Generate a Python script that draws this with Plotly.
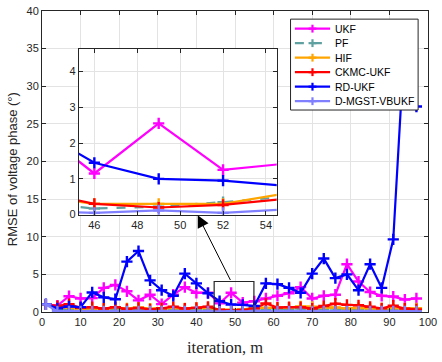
import plotly.graph_objects as go

iters = [1, 4, 7, 10, 13, 16, 19, 22, 25, 28, 31, 34, 37, 40, 43, 46, 49, 52, 55,
         58, 61, 64, 67, 70, 73, 76, 79, 82, 85, 88, 91, 94, 97]

ukf = [1.0, 0.85, 2.1, 1.8, 1.85, 3.2, 3.6, 2.75, 1.55, 2.3, 1.05, 2.3, 3.3, 2.55, 2.55,
       1.15, 2.55, 1.25, 1.43, 1.8, 2.15, 2.5, 3.3, 1.8, 2.15, 2.3, 6.35, 4.05, 2.65,
       2.15, 2.05, 1.65, 1.8]
pf = [1.0, 0.4, 0.35, 0.3, 0.35, 0.3, 0.35, 0.3, 0.3, 0.3, 0.35, 0.3, 0.3, 0.3, 0.35,
      0.17, 0.22, 0.35, 0.5, 0.4, 0.35, 0.4, 0.45, 0.4, 0.4, 0.45, 0.4, 0.35, 0.35,
      0.3, 0.35, 0.3, 0.3]
hif = [1.0, 0.6, 0.55, 0.45, 0.5, 0.45, 0.55, 0.5, 0.6, 0.45, 0.5, 0.55, 0.5, 0.55, 0.55,
       0.3, 0.3, 0.3, 0.6, 0.55, 0.55, 0.6, 0.75, 0.7, 0.6, 0.6, 0.5, 0.55, 0.5,
       0.5, 0.55, 0.5, 0.5]
ckmc = [1.0, 0.8, 1.05, 0.55, 0.65, 0.45, 0.65, 0.4, 0.55, 0.35, 0.5, 0.7, 0.45, 0.55, 0.7,
        0.3, 0.2, 0.27, 0.45, 1.15, 0.6, 0.65, 0.65, 0.45, 0.8, 1.1, 0.95, 0.9, 0.7,
        0.5, 0.85, 0.45, 0.35]
rdukf = [1.05, 0.5, 0.75, 0.65, 2.6, 1.95, 1.7, 6.7, 8.1, 4.2, 2.9, 2.15, 5.1, 3.8, 2.5,
         1.45, 1.0, 0.95, 0.8, 3.8, 3.7, 3.2, 2.55, 5.1, 7.1, 4.5, 5.0, 2.9, 6.35,
         3.2, 9.65, 36.5, 27.3]
dmgst = [1.0, 0.1, 0.1, 0.08, 0.1, 0.08, 0.1, 0.08, 0.08, 0.08, 0.1, 0.08, 0.1, 0.08, 0.1,
         0.05, 0.12, 0.05, 0.15, 0.1, 0.08, 0.1, 0.08, 0.08, 0.08, 0.1, 0.08, 0.08, 0.08,
         0.08, 0.1, 0.08, 0.08]

series = [
    ("UKF", ukf, "#FF00FF", "solid"),
    ("PF", pf, "#5FA0A0", "dash"),
    ("HIF", hif, "#FFA500", "solid"),
    ("CKMC-UKF", ckmc, "#FF0000", "solid"),
    ("RD-UKF", rdukf, "#0000FF", "solid"),
    ("D-MGST-VBUKF", dmgst, "#8080FF", "solid"),
]

x_ticks = [0, 10, 20, 30, 40, 50, 60, 70, 80, 90, 100]
y_ticks = [0, 5, 10, 15, 20, 25, 30, 35, 40]
inset_x_ticks = [46, 48, 50, 52, 54]
inset_y_ticks = [0, 1, 2, 3, 4]

# plot area in pixels
L, R, T, B = 42, 432.3, 5, 312
W, H = 442, 362


def px_x(p):
    return (p - L) / (R - L)


def px_y(p):
    return (B - p) / (B - T)


fig = go.Figure()
for name, vals, color, dash in series:
    fig.add_trace(go.Scatter(
        x=iters, y=vals, name=name, mode="lines+markers", showlegend=False,
        line=dict(color=color, width=2.2, dash=dash),
        marker=dict(symbol="cross-thin", size=8, line=dict(color=color, width=2.4)),
        xaxis="x", yaxis="y"))
for name, vals, color, dash in series:
    fig.add_trace(go.Scatter(
        x=iters, y=vals, name=name, mode="lines+markers", showlegend=False,
        line=dict(color=color, width=2.2, dash=dash),
        marker=dict(symbol="cross-thin", size=8, line=dict(color=color, width=2.4)),
        xaxis="x2", yaxis="y2"))

tickfont = dict(family="Liberation Sans, Arial, sans-serif", size=11, color="#262626")
axis_common = dict(showgrid=True, gridcolor="#E3E3E3", gridwidth=1, zeroline=False,
                   showline=True, linecolor="#262626", linewidth=1, mirror="ticks",
                   ticks="inside", ticklen=4, tickcolor="#262626", tickfont=tickfont,
                   ticklabeloverflow="allow")

fig.update_layout(
    width=W, height=H,
    margin=dict(l=L, r=W - R, t=T, b=H - B),
    paper_bgcolor="white", plot_bgcolor="white",
    xaxis=dict(range=[0, 100], tickvals=x_ticks, domain=[0, 1], **axis_common),
    yaxis=dict(range=[0, 40], tickvals=y_ticks, domain=[0, 1], **axis_common),
    xaxis2=dict(range=[45.28, 54.5], tickvals=inset_x_ticks, domain=[0.0956, 0.608],
                anchor="y2", **axis_common),
    yaxis2=dict(range=[0, 4.64], tickvals=inset_y_ticks, domain=[0.3235, 0.875],
                anchor="x2", **axis_common),
    showlegend=False,
)

# axis titles
fig.add_annotation(text="iteration, m", xref="paper", yref="paper",
                   x=px_x(226.7), y=px_y(348), xanchor="center", yanchor="middle",
                   showarrow=False,
                   font=dict(family="Liberation Serif, Times New Roman, serif",
                             size=16.5, color="#262626"))
fig.add_annotation(text="RMSE of voltage phase (°)", xref="paper", yref="paper",
                   x=px_x(13), y=px_y(166), xanchor="center", yanchor="middle",
                   textangle=-90, showarrow=False,
                   font=dict(family="Liberation Sans, Arial, sans-serif",
                             size=13, color="#262626"))

# white background for the inset (covers main traces)
fig.add_shape(type="rect", xref="x2", yref="y2", x0=45.28, x1=54.5, y0=0, y1=4.64,
              fillcolor="white", line=dict(width=0), layer="below")
# zoom box on main axes
fig.add_shape(type="rect", xref="x", yref="y", x0=44.6, x1=54.9, y0=-0.4, y1=4.05,
              line=dict(color="#262626", width=1.2), fillcolor="rgba(0,0,0,0)",
              layer="above")
fig.add_annotation(x=40.35, y=12.86, xref="x", yref="y", ax=49.0, ay=4.05,
                   axref="x", ayref="y", showarrow=True, arrowhead=2, arrowsize=2.4,
                   arrowwidth=1, arrowcolor="#000000", text="")

# legend (drawn as shapes + text)
fig.add_shape(type="rect", xref="paper", yref="paper",
              x0=px_x(293.3), x1=px_x(422.3), y0=px_y(106), y1=px_y(13.3),
              fillcolor="white", line=dict(color="#262626", width=1), layer="above")
for i, (name, vals, color, dash) in enumerate(series):
    yc = 23 + i * 14.8
    fig.add_shape(type="line", xref="paper", yref="paper",
                  x0=px_x(297.7), x1=px_x(333.3), y0=px_y(yc), y1=px_y(yc),
                  line=dict(color=color, width=2.2, dash=dash), layer="above")
    fig.add_shape(type="line", xref="paper", yref="paper",
                  x0=px_x(311.5), x1=px_x(319.5), y0=px_y(yc), y1=px_y(yc),
                  line=dict(color=color, width=2.2), layer="above")
    fig.add_shape(type="line", xref="paper", yref="paper",
                  x0=px_x(315.5), x1=px_x(315.5), y0=px_y(yc - 4), y1=px_y(yc + 4),
                  line=dict(color=color, width=2.2), layer="above")
    fig.add_annotation(text=name, xref="paper", yref="paper",
                       x=px_x(336), y=px_y(yc), xanchor="left", yanchor="middle",
                       showarrow=False,
                       font=dict(family="Liberation Sans, Arial, sans-serif",
                                 size=10.5, color="#000000"))

fig.write_html("out.html")
